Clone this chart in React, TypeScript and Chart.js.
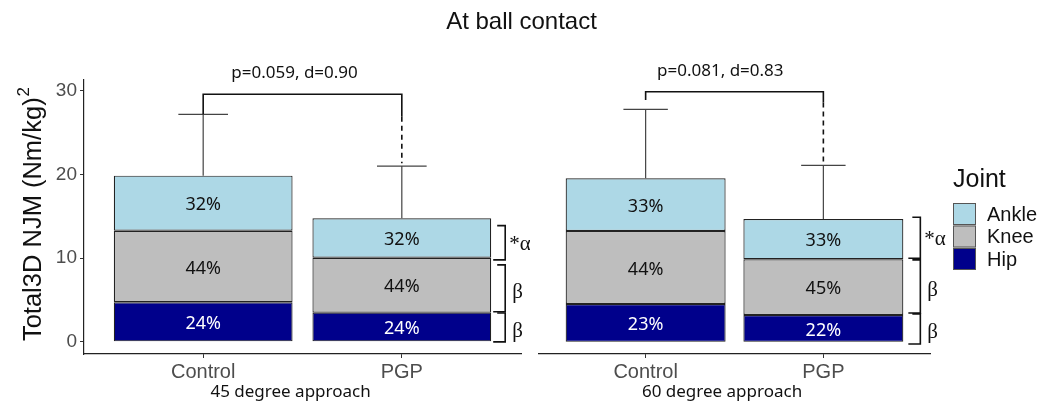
import React, { useEffect, useRef } from 'react';
import { Chart, registerables } from 'chart.js';
Chart.register(...registerables);

// ---------- data ----------
const groups = ['Control', 'PGP'];
const jointNames = ['Hip', 'Knee', 'Ankle'];
const jointColors = ['#00008B', '#BEBEBE', '#ADD8E6'];
const legendTitle = 'Joint';
const mainTitle = 'At ball contact';
const yTitle = 'Total3D NJM (Nm/kg)';
const yTitleSup = '2';
const yTicks = [0, 10, 20, 30];

const facet45 = '45 degree approach';
const hip45 = [4.73, 3.49];
const knee45 = [8.56, 6.57];
const ankle45 = [6.58, 4.71];
const err45 = [27.2, 21.0];
const hipPct45 = ['24%', '24%'];
const kneePct45 = ['44%', '44%'];
const anklePct45 = ['32%', '32%'];
const pLabel45 = 'p=0.059, d=0.90';
const pBracket45 = [29.6, 27.2, 26.9]; // bracket level, left leg end, right solid end
const sideTop45 = [13.9, 9.2, 3.45]; // ankle, knee, hip
const sideBottom45 = [9.8, 3.6, 0.0];

const facet60 = '60 degree approach';
const hip60 = [4.53, 3.22];
const knee60 = [8.73, 6.65];
const ankle60 = [6.29, 4.82];
const err60 = [27.8, 21.1];
const hipPct60 = ['23%', '22%'];
const kneePct60 = ['44%', '45%'];
const anklePct60 = ['33%', '33%'];
const pLabel60 = 'p=0.081, d=0.83';
const pBracket60 = [29.9, 28.9, 28.6];
const sideTop60 = [14.9, 9.8, 3.34];
const sideBottom60 = [10.0, 3.45, -0.25];

const sideMarks = ['*α', 'β', 'β'];

// ---------- panels ----------
const panels = [
  {
    facet: facet45, hip: hip45, knee: knee45, ankle: ankle45, err: err45,
    pcts: [hipPct45, kneePct45, anklePct45], pLabel: pLabel45, pBracket: pBracket45,
    sideTop: sideTop45, sideBottom: sideBottom45, pTextX: 1.46, facetX: 1.44, sideOff: 14,
    showY: true, left: 0, width: 530, padLeft: 0, padRight: 9, legend: false,
  },
  {
    facet: facet60, hip: hip60, knee: knee60, ankle: ankle60, err: err60,
    pcts: [hipPct60, kneePct60, anklePct60], pLabel: pLabel60, pBracket: pBracket60,
    sideTop: sideTop60, sideBottom: sideBottom60, pTextX: 1.42, facetX: 1.43, sideOff: 17,
    showY: false, left: 530, width: 509, padLeft: 9, padRight: 109, legend: true,
  },
];

const SANS = '"Liberation Sans", Arial, sans-serif';
const CAL = '"Noto Sans", "Open Sans", sans-serif';
const SERIF = '"Liberation Serif", "DejaVu Serif", serif';

function makePlugin(p: any) {
  return {
    id: 'annot',
    afterDatasetsDraw(chart: any) {
      const ctx = chart.ctx;
      const xs = chart.scales.x;
      const ys = chart.scales.y;
      ctx.save();

      // percent labels
      ctx.font = '18px ' + CAL;
      ctx.textAlign = 'center';
      ctx.textBaseline = 'middle';
      chart.data.datasets.forEach((_ds: any, di: number) => {
        const meta = chart.getDatasetMeta(di);
        meta.data.forEach((el: any, i: number) => {
          const { x, y, base } = el.getProps(['x', 'y', 'base'], true);
          ctx.fillStyle = di === 0 ? '#ffffff' : '#111111';
          ctx.fillText(p.pcts[di][i], x, (y + base) / 2 + 2);
        });
      });

      // error bars
      const capHalf = xs.getPixelForValue(1.125) - xs.getPixelForValue(1);
      ctx.strokeStyle = '#444';
      ctx.lineWidth = 1.2;
      groups.forEach((_g, i) => {
        const total = p.hip[i] + p.knee[i] + p.ankle[i];
        const x = xs.getPixelForValue(i + 1);
        const yT = ys.getPixelForValue(total);
        const yE = ys.getPixelForValue(p.err[i]);
        ctx.beginPath();
        ctx.moveTo(x, yT);
        ctx.lineTo(x, yE);
        ctx.moveTo(x - capHalf, yE);
        ctx.lineTo(x + capHalf, yE);
        ctx.stroke();
      });

      // comparison bracket
      const x1 = xs.getPixelForValue(1);
      const x2 = xs.getPixelForValue(2);
      const yb = ys.getPixelForValue(p.pBracket[0]);
      const yl = ys.getPixelForValue(p.pBracket[1]);
      const yr = ys.getPixelForValue(p.pBracket[2]);
      const yErr2 = ys.getPixelForValue(p.err[1]);
      ctx.strokeStyle = '#111';
      ctx.lineWidth = 1.6;
      ctx.beginPath();
      ctx.moveTo(x1, yl);
      ctx.lineTo(x1, yb);
      ctx.lineTo(x2, yb);
      ctx.lineTo(x2, yr);
      ctx.stroke();
      ctx.setLineDash([5, 4]);
      ctx.beginPath();
      ctx.moveTo(x2, yr);
      ctx.lineTo(x2, yErr2 - 3);
      ctx.stroke();
      ctx.setLineDash([]);

      ctx.fillStyle = '#111';
      ctx.font = '17px ' + CAL;
      ctx.textAlign = 'center';
      ctx.textBaseline = 'middle';
      ctx.fillText(p.pLabel, xs.getPixelForValue(p.pTextX), ys.getPixelForValue(p.pBracket[0]) - 21);

      // side brackets
      const bx = xs.getPixelForValue(2.45) + p.sideOff;
      ctx.lineWidth = 1.6;
      ctx.strokeStyle = '#111';
      for (let k = 0; k < 3; k++) {
        const t = ys.getPixelForValue(p.sideTop[k]);
        const b = ys.getPixelForValue(p.sideBottom[k]);
        ctx.beginPath();
        ctx.moveTo(bx - 8, t);
        ctx.lineTo(bx, t);
        ctx.lineTo(bx, b);
        ctx.lineTo(bx - 12, b);
        ctx.stroke();
        ctx.font = '21px ' + SERIF;
        ctx.textAlign = 'left';
        ctx.textBaseline = 'middle';
        ctx.fillText(sideMarks[k], bx + (k === 0 ? 4 : 7), (t + b) / 2 + (k === 0 ? 2 : 4));
      }

      // facet label
      ctx.font = '17px ' + CAL;
      ctx.textAlign = 'center';
      ctx.textBaseline = 'middle';
      ctx.fillStyle = '#111';
      ctx.fillText(p.facet, xs.getPixelForValue(p.facetX), 392);

      // y title
      if (p.showY) {
        ctx.save();
        ctx.translate(41, 214);
        ctx.rotate(-Math.PI / 2);
        ctx.font = '25.5px ' + SANS;
        const w1 = ctx.measureText(yTitle).width;
        ctx.font = '17px ' + SANS;
        const w2 = ctx.measureText(yTitleSup).width;
        const tot = w1 + w2 + 1;
        ctx.textAlign = 'left';
        ctx.textBaseline = 'alphabetic';
        ctx.fillStyle = '#111';
        ctx.font = '25.5px ' + SANS;
        ctx.fillText(yTitle, -tot / 2, 0);
        ctx.font = '17px ' + SANS;
        ctx.fillText(yTitleSup, -tot / 2 + w1 + 1, -12);
        ctx.restore();
      }

      // legend
      if (p.legend) {
        const ox = 953 - p.left;
        ctx.fillStyle = '#111';
        ctx.font = '25px ' + SANS;
        ctx.textAlign = 'left';
        ctx.textBaseline = 'alphabetic';
        ctx.fillText(legendTitle, ox, 187);
        const order = [2, 1, 0];
        order.forEach((di, k) => {
          const ds = chart.data.datasets[di];
          const y0 = 203 + k * 22.5;
          ctx.fillStyle = ds.backgroundColor;
          ctx.fillRect(ox, y0, 23, 22);
          ctx.strokeStyle = '#555';
          ctx.lineWidth = 1;
          ctx.strokeRect(ox + 0.5, y0 + 0.5, 22, 21);
          ctx.fillStyle = '#111';
          ctx.font = '20px ' + SANS;
          ctx.textBaseline = 'middle';
          ctx.fillText(ds.label, ox + 34, y0 + 12);
        });
      }
      ctx.restore();
    },
  };
}

function Panel({ p }: { p: any }) {
  const ref = useRef<HTMLCanvasElement | null>(null);
  useEffect(() => {
    if (!ref.current) return;
    const series = [p.hip, p.knee, p.ankle];
    const chart = new Chart(ref.current, {
      type: 'bar',
      data: {
        datasets: jointNames.map((name, di) => ({
          label: name,
          data: groups.map((_g, i) => ({ x: i + 1, y: series[di][i] })),
          backgroundColor: jointColors[di],
          borderColor: '#222',
          borderWidth: 1.2,
          borderSkipped: false,
          categoryPercentage: 0.9,
          barPercentage: 1,
        })),
      },
      options: {
        animation: false,
        responsive: false,
        devicePixelRatio: 1,
        layout: { padding: { top: 80, left: p.padLeft, right: p.padRight, bottom: 0 } },
        plugins: { legend: { display: false }, tooltip: { enabled: false }, title: { display: false } },
        scales: {
          x: {
            type: 'linear',
            min: 0.4,
            max: 2.6,
            stacked: true,
            offset: false,
            afterBuildTicks: (s: any) => { s.ticks = [{ value: 1 }, { value: 2 }]; },
            afterFit: (s: any) => { s.height = 49; },
            grid: { display: true, offset: false, drawOnChartArea: false, drawTicks: true, tickLength: 4, color: '#333' },
            border: { display: true, color: '#222', width: 1.2 },
            ticks: {
              color: '#4d4d4d',
              font: { family: SANS, size: 20 },
              padding: 2,
              maxRotation: 0,
              callback: (v: any) => groups[Math.round(v) - 1] ?? '',
            },
          },
          y: {
            type: 'linear',
            display: p.showY,
            min: -1.45,
            max: 31.3,
            stacked: true,
            afterBuildTicks: (s: any) => { s.ticks = yTicks.map((v) => ({ value: v })); },
            afterFit: (s: any) => { s.width = p.showY ? 84 : 0; },
            grid: { display: true, drawOnChartArea: false, drawTicks: true, tickLength: 4, color: '#333' },
            border: { display: true, color: '#222', width: 1.2 },
            ticks: { color: '#4d4d4d', font: { family: SANS, size: 19 }, padding: 3 },
          },
        },
      },
      plugins: [makePlugin(p)],
    } as any);
    return () => chart.destroy();
  }, [p]);
  return (
    <canvas
      ref={ref}
      width={p.width}
      height={403}
      style={{ position: 'absolute', left: p.left, top: 0, width: p.width, height: 403, display: 'block' }}
    />
  );
}

export default function App() {
  return (
    <div style={{ position: 'absolute', left: 0, top: 0, width: 1039, height: 403, background: '#fff', overflow: 'hidden' }}>
      {panels.map((p, i) => (
        <Panel key={i} p={p} />
      ))}
      <div
        style={{
          position: 'absolute', left: 0, top: 7, width: 1043, textAlign: 'center',
          font: '24px "Liberation Sans", Arial, sans-serif', lineHeight: '28px', color: '#111',
        }}
      >
        {mainTitle}
      </div>
    </div>
  );
}
